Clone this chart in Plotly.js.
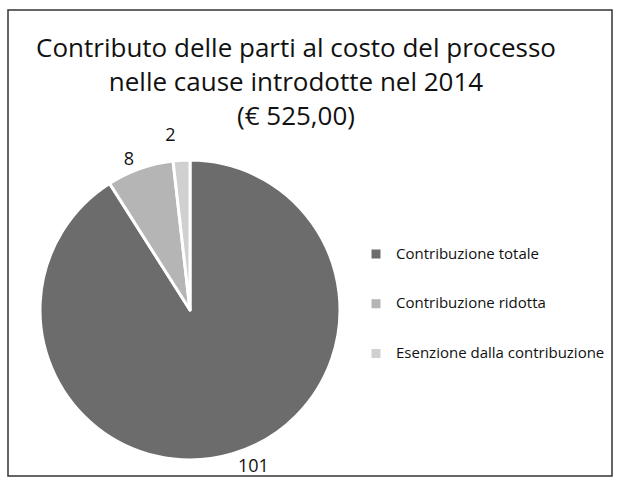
<!DOCTYPE html>
<html>
<head>
<meta charset="utf-8">
<script src="https://cdn.plot.ly/plotly-3.0.1.min.js"></script>
<style>html,body{margin:0;padding:0;background:#fff;}#chart{width:620px;height:483px;}
#chart path.textline{display:none;}</style>
</head>
<body>
<div id="chart"></div>
<script>
var categories = ["Contribuzione totale", "Contribuzione ridotta", "Esenzione dalla contribuzione"];
var values = [101, 8, 2];
var sliceColors = ["#6c6c6c", "#b5b5b5", "#d0d0d0"];

var W = 620, H = 483;
var cx = 190, cy = 310, R = 150;

// legend entries padded with blank lines (small base font) to reproduce the wide spacing
var legendLabels = categories.map(function (c) {
  return " <br><span style='font-size:15px'>" + c + "</span><br> ";
});

var trace = {
  type: "pie",
  labels: legendLabels,
  values: values,
  customdata: categories,
  sort: false,
  direction: "clockwise",
  rotation: 0,
  marker: {colors: sliceColors, line: {color: "#ffffff", width: 3}},
  texttemplate: "%{value}",
  textposition: "outside",
  textfont: {family: "Open Sans, sans-serif", size: 18, color: "#111"},
  hovertemplate: "%{customdata}: %{value}<extra></extra>",
  domain: {x: [(cx - R) / W, (cx + R) / W], y: [(H - cy - R) / H, (H - cy + R) / H]}
};

var layout = {
  width: W, height: H,
  margin: {l: 0, r: 0, t: 0, b: 0},
  paper_bgcolor: "#ffffff",
  showlegend: true,
  title: {
    text: "Contributo delle parti al costo del processo<br>nelle cause introdotte nel 2014<br>(€ 525,00)",
    x: 296 / W, xanchor: "center", xref: "container",
    y: 1 - 57 / H, yanchor: "top", yref: "container",
    font: {family: "Open Sans, sans-serif", size: 26, color: "#111"}
  },
  legend: {
    x: 356 / W, xanchor: "left",
    y: 1 - 224 / H, yanchor: "top",
    valign: "middle",
    bgcolor: "rgba(0,0,0,0)",
    font: {family: "Open Sans, sans-serif", size: 12, color: "#111"},
    itemwidth: 30,
    tracegroupgap: 0
  },
  shapes: [{
    type: "rect", xref: "paper", yref: "paper",
    x0: 8 / W, x1: 612 / W, y0: 1 - 476 / H, y1: 1 - 10 / H,
    line: {color: "#333333", width: 1.5}
  }]
};

Plotly.newPlot("chart", [trace], layout, {displayModeBar: false});
</script>
</body>
</html>
